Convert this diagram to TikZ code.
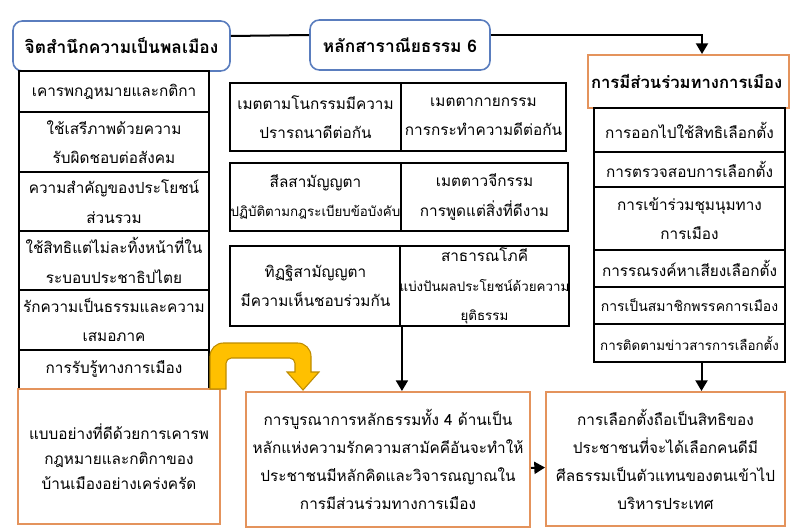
\documentclass[tikz,border=0pt]{standalone}
\usepackage{fontspec}
\setmainfont[Script=Thai]{Loma}
\usetikzlibrary{arrows.meta,calc}
\definecolor{ttlblue}{RGB}{90,125,190}
\definecolor{orgc}{RGB}{228,147,92}
\definecolor{goldf}{RGB}{255,192,0}
\definecolor{goldd}{RGB}{190,140,0}
\newcommand\bx[7]{\node[#2, minimum width={(#5-#3)*0.75pt}, minimum height={(#6-#4)*0.75pt}] (#1) at ({(#3+#5)/2},{(#4+#6)/2}) {#7};}
\newcommand\fs{\fontsize{11.5}{22}\selectfont}
\newcommand\fsm{\fontsize{10}{16}\selectfont}
\begin{document}
\begin{tikzpicture}[x=0.75pt,y=-0.75pt,
  blk/.style={draw=black, line width=1.4pt, fill=white, align=center, inner sep=0pt, font=\fs},
  ttl/.style={draw=ttlblue, line width=1.2pt, rounded corners=7pt, fill=white, inner sep=0pt, font=\fontsize{13}{16}\selectfont\bfseries},
  org/.style={draw=orgc, line width=1.5pt, fill=white, align=center, inner sep=0pt, font=\fs},
  con/.style={draw=black, line width=1.5pt, -{Triangle[length=8pt,width=9pt]}}]
\useasboundingbox (0,0) rectangle (805,531);
% titles
\bx{t1}{ttl}{13}{21}{230}{71}{จิตสำนึกความเป็นพลเมือง}
\bx{t2}{ttl}{310}{20}{490}{70}{หลักสาราณียธรรม 6}
\bx{t3}{org, font=\fontsize{12.5}{16}\selectfont\bfseries, text width={195*0.75pt}, align=left}{588}{55}{789}{108}{การมีส่วนร่วมทางการเมือง}
% left column
\bx{l1}{blk}{19}{71}{209}{112}{เคารพกฎหมายและกติกา}
\bx{l2}{blk}{19}{112}{209}{172}{ใช้เสรีภาพด้วยความ\\รับผิดชอบต่อสังคม}
\bx{l3}{blk}{19}{172}{209}{231}{ความสำคัญของประโยชน์\\ส่วนรวม}
\bx{l4}{blk}{19}{231}{209}{290}{ใช้สิทธิแต่ไม่ละทิ้งหน้าที่ใน\\ระบอบประชาธิปไตย}
\bx{l5}{blk}{19}{290}{209}{350}{รักความเป็นธรรมและความ\\เสมอภาค}
\bx{l6}{blk}{19}{350}{209}{389}{การรับรู้ทางการเมือง}
% middle column
\bx{m1l}{blk}{230}{83}{401}{151}{เมตตามโนกรรมมีความ\\ปรารถนาดีต่อกัน}
\bx{m1r}{blk}{401}{83}{566}{151}{เมตตากายกรรม\\การกระทำความดีต่อกัน}
\bx{m2l}{blk}{230}{163}{401}{231}{สีลสามัญญตา\\{\fsm ปฏิบัติตามกฎระเบียบข้อบังคับ}}
\bx{m2r}{blk}{401}{163}{568}{231}{เมตตาวจีกรรม\\การพูดแต่สิ่งที่ดีงาม}
\bx{m3l}{blk}{230}{246}{401}{326}{ทิฏฐิสามัญญตา\\มีความเห็นชอบร่วมกัน}
\bx{m3r}{blk}{401}{246}{568}{326}{สาธารณโภคี\\{\fsm แบ่งปันผลประโยชน์ด้วยความ}\\{\fsm ยุติธรรม}}
% right column
\bx{r1}{blk}{594}{108}{785}{152}{การออกไปใช้สิทธิเลือกตั้ง}
\bx{r2}{blk}{594}{152}{785}{187}{การตรวจสอบการเลือกตั้ง}
\bx{r3}{blk}{594}{187}{785}{250}{การเข้าร่วมชุมนุมทาง\\การเมือง}
\bx{r4}{blk}{594}{250}{785}{287}{การรณรงค์หาเสียงเลือกตั้ง}
\bx{r5}{blk}{594}{287}{785}{324}{{\fontsize{10.5}{16}\selectfont การเป็นสมาชิกพรรคการเมือง}}
\bx{r6}{blk}{594}{324}{785}{362}{{\fsm การติดตามข่าวสารการเลือกตั้ง}}
% bottom row
\bx{b1}{org, font=\fontsize{11.5}{19}\selectfont}{18}{389}{220}{524}{แบบอย่างที่ดีด้วยการเคารพ\\กฎหมายและกติกาของ\\บ้านเมืองอย่างเคร่งครัด}
\bx{b2}{org, font=\fontsize{11.5}{21}\selectfont}{246}{392}{530}{527}{การบูรณาการหลักธรรมทั้ง 4 ด้านเป็น\\หลักแห่งความรักความสามัคคีอันจะทำให้\\ประชาชนมีหลักคิดและวิจารณญาณใน\\การมีส่วนร่วมทางการเมือง}
\bx{b3}{org, font=\fontsize{11.5}{21}\selectfont}{546}{392}{785}{526}{การเลือกตั้งถือเป็นสิทธิของ\\ประชาชนที่จะได้เลือกคนดีมี\\ศีลธรรมเป็นตัวแทนของตนเข้าไป\\บริหารประเทศ}
% connectors
\draw[line width=1.5pt] ($(t1.east)+(0,-10)$) -- ($(t2.west)+(0,-10)$);
\draw[con] ($(t2.east)+(0,-10)$) -| ($(t3.north)+(13.5,0)$);
\draw[con] (m3l.south east) -- (m3l.south east |- b2.north);
\draw[con] ($(r6.south)+(12,0)$) coordinate (ra) -- (ra |- b3.north);
\draw[con] ($(b2.east)+(0,8.5)$) -- ($(b3.west)+(0,8.5)$);
% yellow U arrow
\filldraw[fill=goldf, draw=goldd, line width=0.8pt]
  (210,389) [rounded corners=10pt] -- (210,343) -- (311,343) [sharp corners] -- (311,372)
  -- (319,372) -- (303,390) -- (287,372) -- (295,372) [rounded corners=4pt] -- (295,358)
  -- (226,358) [sharp corners] -- (226,389) -- cycle;
\end{tikzpicture}
\end{document}
